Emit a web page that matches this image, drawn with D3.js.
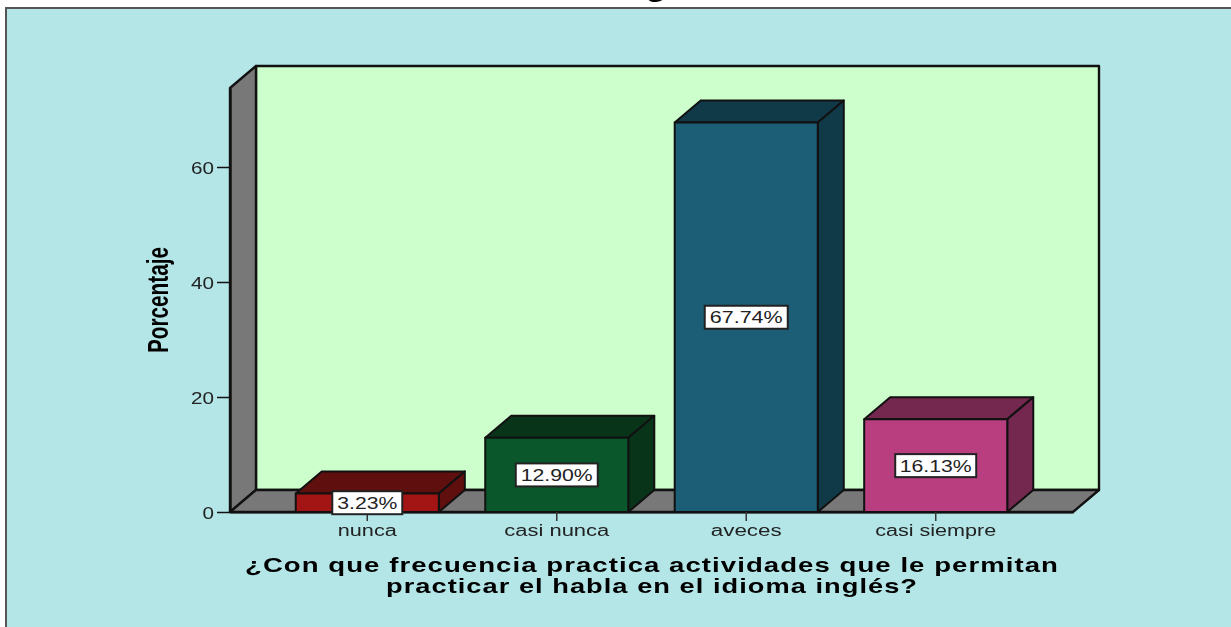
<!DOCTYPE html>
<html>
<head>
<meta charset="utf-8">
<script src="https://cdn.jsdelivr.net/npm/d3@7"></script>
<style>
  html, body { margin: 0; padding: 0; background: #fff; overflow: hidden; }
  svg { display: block; filter: blur(0.55px); }
  text { font-family: "Liberation Sans", Arial, sans-serif; }
  .tick text { fill: #222; }
</style>
</head>
<body>
<script>
const categories = ['nunca', 'casi nunca', 'aveces', 'casi siempre']
const percentages = [3.23, 12.90, 67.74, 16.13]
const yTicks = [0, 20, 40, 60]
const xTitleLines = ['¿Con que frecuencia practica actividades que le permitan',
                     'practicar el habla en el idioma inglés?']
const yTitle = 'Porcentaje'
const chartTitle = 'g'

const frontColors = ['#a31515', '#0b572c', '#1b5e76', '#b93e7f']
const darkColors = ['#600f0f', '#083519', '#113a48', '#74274f']

const WIDTH = 1231, HEIGHT = 627
const PLOT = { left: 230, right: 1073, top: 88, bottom: 512 }
// 3d offset of the back wall
const DX = 26, DY = 22
const STROKE = '#111'

// image was stretched, so every text gets an explicit width
const xLabelWidths = [59, 105, 71, 121]
const labelBoxWidths = [70, 82, 83, 81]
const labelTextWidths = [60, 72, 73, 72]

const svg = d3.select('body').append('svg')
  .attr('width', WIDTH)
  .attr('height', HEIGHT)

const x = d3.scaleBand()
  .domain(categories)
  .range([PLOT.left, PLOT.right])
  .paddingInner(0.245)
  .paddingOuter(0.347)

const y = d3.scaleLinear()
  .domain([0, 73.74])
  .range([PLOT.bottom, PLOT.top])

// panel
svg.append('rect')
  .attr('x', 6).attr('y', 8)
  .attr('width', WIDTH).attr('height', HEIGHT)
  .attr('fill', '#b4e6e8')
  .attr('stroke', '#555')
  .attr('stroke-width', 2)

// the title is cut off at the top of the reference, only this descender shows
svg.append('text')
  .attr('x', 646).attr('y', -3)
  .attr('font-size', 24)
  .attr('font-weight', 'bold')
  .attr('textLength', 20)
  .attr('lengthAdjust', 'spacingAndGlyphs')
  .text(chartTitle)

// walls and floor
const walls = svg.append('g')
  .attr('stroke', STROKE)
  .attr('stroke-width', 2.4)
  .attr('stroke-linejoin', 'round')

walls.append('rect')
  .attr('x', PLOT.left + DX).attr('y', PLOT.top - DY)
  .attr('width', PLOT.right - PLOT.left)
  .attr('height', PLOT.bottom - PLOT.top)
  .attr('fill', '#ccffcc')

walls.append('path')
  .attr('fill', '#787878')
  .attr('d', d3.line()([
    [PLOT.left, PLOT.bottom], [PLOT.left, PLOT.top],
    [PLOT.left + DX, PLOT.top - DY], [PLOT.left + DX, PLOT.bottom - DY]
  ]) + 'Z')

walls.append('path')
  .attr('fill', '#787878')
  .attr('d', d3.line()([
    [PLOT.left, PLOT.bottom], [PLOT.left + DX, PLOT.bottom - DY],
    [PLOT.right + DX, PLOT.bottom - DY], [PLOT.right, PLOT.bottom]
  ]) + 'Z')

// bars
const bar = svg.append('g')
  .selectAll('g')
  .data(categories)
  .join('g')
  .attr('stroke', STROKE)
  .attr('stroke-width', 2)
  .attr('stroke-linejoin', 'round')

const barTop = (d, i) => y(percentages[i])

bar.append('path')
  .attr('fill', (d, i) => darkColors[i])
  .attr('d', (d, i) => {
    const x0 = x(d), x1 = x0 + x.bandwidth(), t = barTop(d, i)
    return d3.line()([[x0, t], [x0 + DX, t - DY], [x1 + DX, t - DY], [x1, t]]) + 'Z'
  })

bar.append('path')
  .attr('fill', (d, i) => darkColors[i])
  .attr('d', (d, i) => {
    const x1 = x(d) + x.bandwidth(), t = barTop(d, i)
    return d3.line()([[x1, t], [x1 + DX, t - DY], [x1 + DX, y(0) - DY], [x1, y(0)]]) + 'Z'
  })

bar.append('rect')
  .attr('x', d => x(d))
  .attr('y', barTop)
  .attr('width', x.bandwidth())
  .attr('height', (d, i) => y(0) - barTop(d, i))
  .attr('fill', (d, i) => frontColors[i])

// axes
const yAxis = svg.append('g')
  .attr('transform', 'translate(' + PLOT.left + ',0)')
  .call(d3.axisLeft(y).tickValues(yTicks).tickSizeInner(13).tickSizeOuter(0).tickPadding(3))

yAxis.select('.domain').attr('stroke', STROKE).attr('stroke-width', 2.4)
yAxis.selectAll('line').attr('stroke', STROKE).attr('stroke-width', 1.5)
yAxis.selectAll('text')
  .attr('font-size', 16.5)
  .attr('dy', '.42em')
  .attr('textLength', d => d === 0 ? 11.5 : 23)
  .attr('lengthAdjust', 'spacingAndGlyphs')

const xAxis = svg.append('g')
  .attr('transform', 'translate(0,' + PLOT.bottom + ')')
  .call(d3.axisBottom(x).tickSizeInner(9).tickSizeOuter(0).tickPadding(4))

xAxis.select('.domain').attr('stroke', STROKE).attr('stroke-width', 2)
xAxis.selectAll('line').attr('stroke', '#333').attr('stroke-width', 1.5)
xAxis.selectAll('text')
  .attr('font-size', 16)
  .attr('textLength', (d, i) => xLabelWidths[i])
  .attr('lengthAdjust', 'spacingAndGlyphs')

// value labels
const label = svg.append('g')
  .selectAll('g')
  .data(categories)
  .join('g')
  .attr('transform', (d, i) => 'translate(' +
    (x(d) + x.bandwidth() / 2) + ',' + (y(percentages[i] / 2)) + ')')

label.append('rect')
  .attr('x', (d, i) => -labelBoxWidths[i] / 2)
  .attr('y', -11.5)
  .attr('width', (d, i) => labelBoxWidths[i])
  .attr('height', 23)
  .attr('fill', '#fff')
  .attr('stroke', '#222')
  .attr('stroke-width', 2)

label.append('text')
  .attr('text-anchor', 'middle')
  .attr('y', 6)
  .attr('font-size', 17)
  .attr('fill', '#222')
  .attr('textLength', (d, i) => labelTextWidths[i])
  .attr('lengthAdjust', 'spacingAndGlyphs')
  .text((d, i) => percentages[i].toFixed(2) + '%')

// axis titles
svg.append('text')
  .attr('transform', 'translate(168,300) rotate(-90)')
  .attr('text-anchor', 'middle')
  .attr('font-size', 29)
  .attr('font-weight', 'bold')
  .attr('textLength', 106)
  .attr('lengthAdjust', 'spacingAndGlyphs')
  .text(yTitle)

svg.append('g')
  .selectAll('text')
  .data(xTitleLines)
  .join('text')
  .attr('x', 652)
  .attr('y', (d, i) => 572 + i * 21)
  .attr('text-anchor', 'middle')
  .attr('font-size', 21)
  .attr('font-weight', 'bold')
  .attr('letter-spacing', 0.8)
  .attr('textLength', (d, i) => i === 0 ? 814 : 532)
  .attr('lengthAdjust', 'spacingAndGlyphs')
  .text(d => d)
</script>
</body>
</html>
